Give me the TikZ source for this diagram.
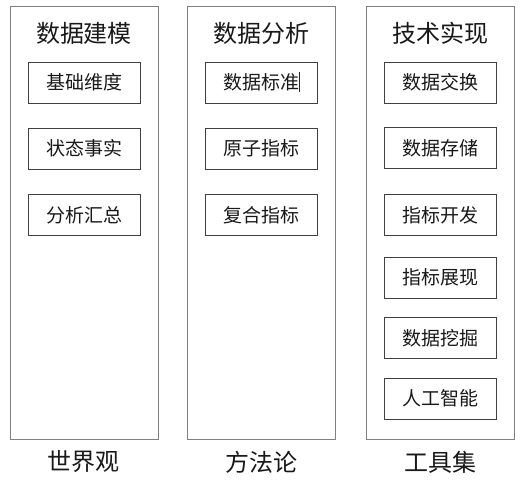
\documentclass[tikz,border=0pt]{standalone}
\usepackage{fontspec}
\newfontfamily\cjk{Noto Sans CJK SC}
\begin{document}
\begin{tikzpicture}[x=1pt,y=-1pt,
  col/.style={draw=black!50, line width=0.9pt, minimum width=148pt, minimum height=433pt, inner sep=0pt},
  item/.style={draw=black!75, line width=0.9pt, minimum width=112pt, minimum height=41pt, inner sep=0pt, font=\cjk\fontsize{19}{19}\selectfont, text=black!90},
  title/.style={font=\cjk\fontsize{24}{24}\selectfont, text=black!90, inner sep=0pt}]
\useasboundingbox (0,0) rectangle (531,492);
\fill[white] (0,0) rectangle (531,492);
% columns
\node[col] (c1) at (84,222.5) {};
\node[col] (c2) at (261.5,222.5) {};
\node[col] (c3) at (440.5,222.5) {};
% titles
\node[title] (t1) at (84,33) {数据建模};
\node[title] (t2) at (261.5,33) {数据分析};
\node[title] (t3) at (440.5,33) {技术实现};
% column 1
\node[item] (a1) at (84,82.5) {基础维度};
\node[item] (a2) at (84,148.5) {状态事实};
\node[item] (a3) at (84,215) {分析汇总};
% column 2
\node[item] (b1) at (261.5,82.5) {数据标准};
\node[item] (b2) at (261.5,148.5) {原子指标};
\node[item] (b3) at (261.5,215) {复合指标};
\draw[line width=0.6pt, black!85] ([xshift=37.5pt,yshift=-10pt]b1.center) -- ([xshift=37.5pt,yshift=10pt]b1.center);
% column 3
\node[item] (d1) at (440.5,82.5) {数据交换};
\node[item] (d2) at (440.5,148) {数据存储};
\node[item] (d3) at (440.5,215) {指标开发};
\node[item] (d4) at (440.5,277.5) {指标展现};
\node[item] (d5) at (440.5,338) {数据挖掘};
\node[item] (d6) at (440.5,398.5) {人工智能};
% bottom labels
\node[title] (l1) at (84,462) {世界观};
\node[title] (l2) at (261.5,462) {方法论};
\node[title] (l3) at (440.5,462) {工具集};
\end{tikzpicture}
\end{document}
